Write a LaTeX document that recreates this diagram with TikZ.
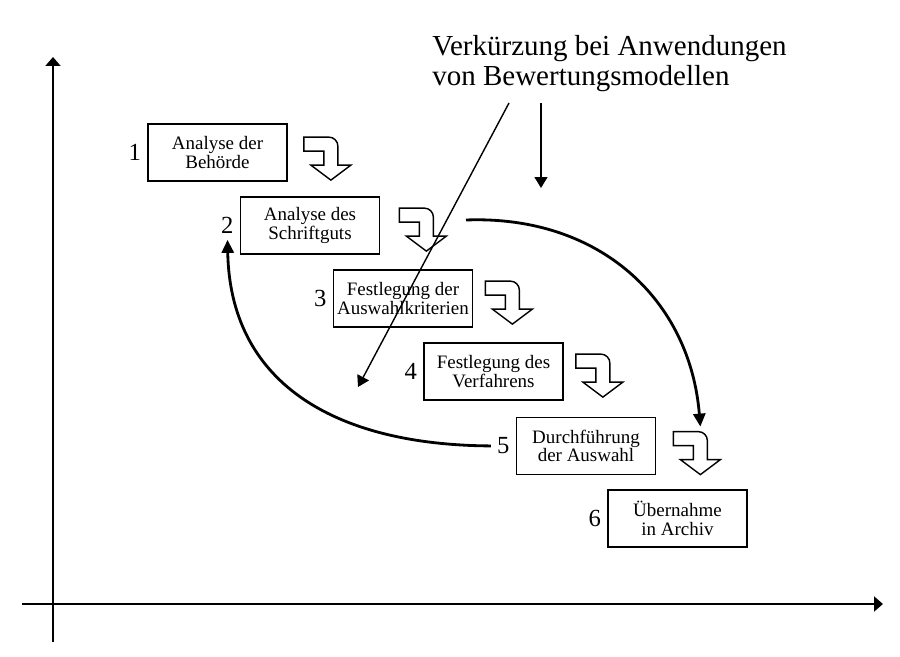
\documentclass[tikz,border=0pt]{standalone}
\usepackage{fontspec}
\setmainfont{Liberation Serif}
\usetikzlibrary{arrows.meta}
\newcommand\boxfont{\fontsize{10.8}{10.6}\selectfont}
\newcommand\numfont{\fontsize{14}{16}\selectfont}
\newcommand\titlefont{\fontsize{16.5}{17.1}\selectfont}
\tikzset{
  turnarrow/.pic={
    \draw [line width=0.8pt, fill=white] (0,0) -- (0.5,0) arc [start angle=90, end angle=0, radius=0.18]
      -- (0.68,-0.56) -- (0.94,-0.56) -- (0.54,-0.86) -- (0.14,-0.56) -- (0.40,-0.56) -- (0.40,-0.28) -- (0,-0.28) -- cycle;
    \coordinate (-top) at (0.54,0);
  }
}
\begin{document}
\begin{tikzpicture}[
    stepbox/.style={draw, line width=1pt, minimum width=2.78cm, minimum height=1.14cm, inner sep=0pt, align=center, font=\boxfont},
    num/.style={font=\numfont},
    axis/.style={line width=1.1pt, -{Triangle[length=0.18cm,width=0.3cm]}},
    pointer/.style={line width=0.8pt, -{Triangle[length=0.22cm,width=0.26cm]}},
    flow/.style={line width=1.6pt, -{Triangle[length=0.26cm,width=0.24cm]}}
  ]
   \useasboundingbox (0,0) rectangle (18,13.12);

   % axes
   \coordinate (ybot) at (1.06,0.28);
   \coordinate (ytop) at (1.06,11.98);
   \coordinate (xleft) at (0.44,1.04);
   \coordinate (xright) at (17.66,1.04);
   \draw [axis] (ybot) -- (ytop);
   \draw [axis] (xleft) -- (xright);

   % steps
   \node [stepbox] (b1) at (4.35,10.07) {Analyse der\\Behörde};
   \node [stepbox] (b2) at (6.20,8.61) {Analyse des\\Schriftguts};
   \node [stepbox] (b3) at (8.06,7.15) {Festlegung der\\Auswahlkriterien};
   \node [stepbox] (b4) at (9.87,5.69) {Festlegung des\\Verfahrens};
   \node [stepbox] (b5) at (11.72,4.20) {Durchführung\\der Auswahl};
   \node [stepbox] (b6) at (13.55,2.75) {Übernahme\\in Archiv};

   \node [num, left] (n1) at (b1.west) {1};
   \node [num, left] (n2) at (b2.west) {2};
   \node [num, left] (n3) at (b3.west) {3};
   \node [num, left] (n4) at (b4.west) {4};
   \node [num, left] (n5) at (b5.west) {5};
   \node [num, left] (n6) at (b6.west) {6};

   \pic (p1) at ([shift={(0.32,-0.28)}]b1.north east) {turnarrow};
   \pic (p2) at ([shift={(0.38,-0.24)}]b2.north east) {turnarrow};
   \pic (p3) at ([shift={(0.24,-0.24)}]b3.north east) {turnarrow};
   \pic (p4) at ([shift={(0.24,-0.24)}]b4.north east) {turnarrow};
   \pic (p5) at ([shift={(0.34,-0.30)}]b5.north east) {turnarrow};

   % shortening
   \node [font=\titlefont, align=left, inner sep=0pt, anchor=north west] (t) at (8.64,12.42)
     {Verkürzung bei Anwendungen\\von Bewertungsmodellen};
   \coordinate (d1) at (10.18,11.06);
   \coordinate (d2) at (7.16,5.38);
   \coordinate (v1) at (10.82,11.06);
   \coordinate (v2) at (10.82,9.36);
   \draw [pointer] (d1) -- (d2);
   \draw [pointer] (v1) -- (v2);

   % loops
   \coordinate (s2) at (9.32,8.72);
   \draw [flow] (s2) .. controls (12.0,8.82) and (13.8,7.12) .. ([yshift=0.1cm]p5-top);
   \draw [flow] (n5) .. controls (6.6,4.22) and (4.6,5.52) .. (n2);

\end{tikzpicture}
\end{document}
